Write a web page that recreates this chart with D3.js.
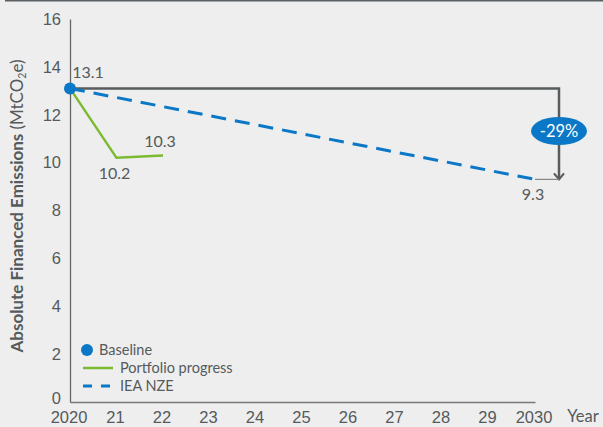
<!DOCTYPE html>
<html><head><meta charset="utf-8">
<script src="https://cdn.jsdelivr.net/npm/d3@7"></script>
<style>
body{margin:0;background:#eeeeee;}
svg{display:block;font-family:Lato, "Open Sans", sans-serif;}
</style></head>
<body><svg id="c" width="603" height="427"></svg>
<script>
const years = [2020,2021,2022,2023,2024,2025,2026,2027,2028,2029,2030];
const xTickLabels = ["2020","21","22","23","24","25","26","27","28","29","2030"];
const yTicks = [0,2,4,6,8,10,12,14,16];
const baselineYear = [2020];
const baselineValue = [13.1];
const portfolioYears = [2020,2021,2022];
const portfolioValues = [13.1,10.2,10.3];
const nzeYears = [2020,2030];
const nzeValues = [13.1,9.3];
const reductionLabel = "-29%";

const blue = "#0a78c6", green = "#7cba32", grey = "#585c5e", txt = "#555a5c";
const svg = d3.select("#c");
const x = d3.scaleLinear().domain([2020,2030]).range([70,535]);
const y = d3.scaleLinear().domain([0,16]).range([402,19]);

// top frame line
svg.append("line").attr("x1",5).attr("x2",603).attr("y1",0.75).attr("y2",0.75)
  .attr("stroke","#5a6063").attr("stroke-width",1.5);

// axes
const xAxis = d3.axisBottom(x).tickValues(years).tickSize(0).tickPadding(9)
  .tickFormat((d,i)=>xTickLabels[i]);
const gx = svg.append("g").attr("transform","translate(0,402)").call(xAxis);
gx.select(".domain").attr("stroke","#777").attr("stroke-width",1.3);
gx.selectAll("text").attr("fill",txt).style("font-size","16.5px").attr("dx","-1.5");

const yAxis = d3.axisLeft(y).tickValues(yTicks).tickSize(0).tickPadding(9);
const gy = svg.append("g").attr("transform","translate(70,0)").call(yAxis);
gy.select(".domain").attr("stroke","#666").attr("stroke-width",1.3);
gy.selectAll("text").attr("fill",txt).style("font-size","16.5px");
gy.selectAll(".tick").filter(d=>d===0).select("text").attr("dy","0.1em");

svg.append("text").attr("x",583).attr("y",422).attr("text-anchor","middle")
  .attr("fill",txt).style("font-size","16.5px").text("Year");

// y title
const yt = svg.append("text").attr("transform","translate(23,206) rotate(-90)")
  .attr("text-anchor","middle").attr("fill",txt).style("font-size","17px");
yt.append("tspan").attr("font-weight","bold").text("Absolute Financed Emissions ");
yt.append("tspan").text("(MtCO");
yt.append("tspan").attr("dy",3).style("font-size","10.5px").text("2");
yt.append("tspan").attr("dy",-3).text("e)");

// baseline bracket
const bx = 559;
const yb = y(baselineValue[0]);
const ye = y(nzeValues[1]);
svg.append("path")
  .attr("d",`M${x(2020)},${yb} H${bx} V${ye-1}`)
  .attr("fill","none").attr("stroke",grey).attr("stroke-width",2.5);
svg.append("path")
  .attr("d",`M${bx-5},${ye-6} L${bx},${ye} L${bx+5},${ye-6}`)
  .attr("fill","none").attr("stroke",grey).attr("stroke-width",2.2);
svg.append("line").attr("x1",x(2030)).attr("x2",bx).attr("y1",ye).attr("y2",ye)
  .attr("stroke","#888").attr("stroke-width",1.2);

// IEA NZE dashed
const line = d3.line().x(d=>x(d[0])).y(d=>y(d[1]));
svg.append("path").datum(nzeYears.map((d,i)=>[d,nzeValues[i]]))
  .attr("d",line).attr("fill","none").attr("stroke",blue).attr("stroke-width",3)
  .attr("stroke-dasharray","15,9");

// portfolio
svg.append("path").datum(portfolioYears.map((d,i)=>[d,portfolioValues[i]]))
  .attr("d",line).attr("fill","none").attr("stroke",green).attr("stroke-width",2.5);

// baseline dot
svg.selectAll(".dot").data(baselineYear).enter().append("circle")
  .attr("cx",d=>x(d)).attr("cy",yb).attr("r",6).attr("fill",blue);

// ellipse
svg.append("ellipse").attr("cx",bx).attr("cy",131).attr("rx",28).attr("ry",14).attr("fill",blue);
svg.append("text").attr("x",bx).attr("y",137).attr("text-anchor","middle")
  .attr("fill","#fff").style("font-size","16.5px").text(reductionLabel);

// value labels
const lab = (tx,ty,t)=>svg.append("text").attr("x",tx).attr("y",ty).attr("text-anchor","middle")
  .attr("fill",txt).style("font-size","16px").text(t);
lab(x(2020)+18, yb-10, baselineValue[0].toFixed(1));
lab(x(2021)-2, y(portfolioValues[1])+21, portfolioValues[1].toFixed(1));
lab(x(2022)-3, y(portfolioValues[2])-8, portfolioValues[2].toFixed(1));
lab(x(2030)-2, ye+21, nzeValues[1].toFixed(1));

// legend
const lg = svg.append("g").style("font-size","14.5px").attr("fill",txt);
lg.append("circle").attr("cx",87).attr("cy",350).attr("r",6).attr("fill",blue);
lg.append("text").attr("x",99).attr("y",355).text("Baseline");
lg.append("line").attr("x1",83).attr("x2",113).attr("y1",368).attr("y2",368)
  .attr("stroke",green).attr("stroke-width",2.5);
lg.append("text").attr("x",120).attr("y",373).text("Portfolio progress");
lg.append("line").attr("x1",83).attr("x2",113).attr("y1",386).attr("y2",386)
  .attr("stroke",blue).attr("stroke-width",3).attr("stroke-dasharray","9,9");
lg.append("text").attr("x",120).attr("y",391).text("IEA NZE");
</script></body></html>
